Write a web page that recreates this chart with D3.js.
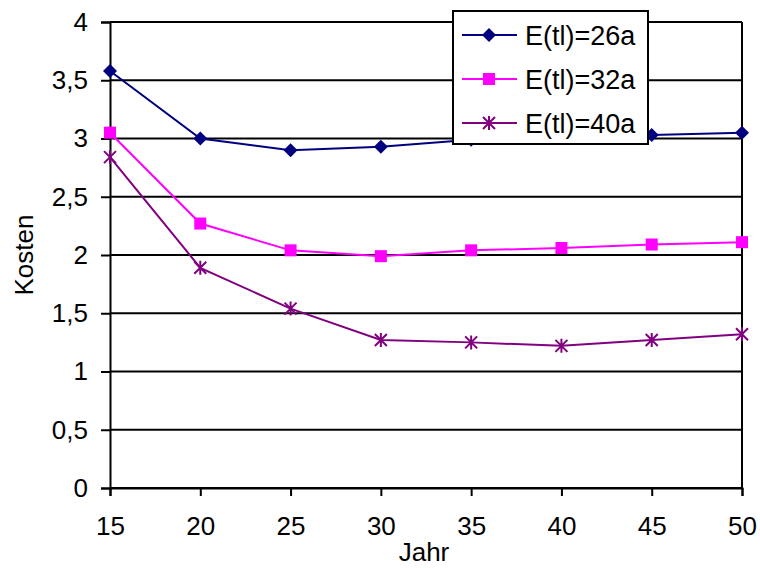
<!DOCTYPE html>
<html>
<head>
<meta charset="utf-8">
<script src="https://cdn.jsdelivr.net/npm/d3@7"></script>
<style>
  body { margin: 0; background: #fff; }
  text { font-family: "Liberation Sans", Arial, sans-serif; fill: #000; }
</style>
</head>
<body>
<div id="container"></div>
<script>
// data
let years = [15, 20, 25, 30, 35, 40, 45, 50];
let kosten26 = [3.58, 3.0, 2.90, 2.93, 2.99, 3.01, 3.03, 3.05];
let kosten32 = [3.05, 2.27, 2.04, 1.99, 2.04, 2.06, 2.09, 2.11];
let kosten40 = [2.84, 1.89, 1.54, 1.27, 1.25, 1.22, 1.27, 1.32];
let yTicks = [0, 0.5, 1, 1.5, 2, 2.5, 3, 3.5, 4];
let seriesNames = ["E(tl)=26a", "E(tl)=32a", "E(tl)=40a"];

let w = 760;
let h = 568;
let plotLeft = 110, plotRight = 742, plotTop = 22, plotBottom = 488;
let fontSize = 26;

let viz = d3.select("#container")
  .append("svg")
    .attr("width", w)
    .attr("height", h)
;

let xScale = d3.scaleLinear().domain([15, 50]).range([plotLeft, plotRight]);
let yScale = d3.scaleLinear().domain([0, 4]).range([plotBottom, plotTop]);

// horizontal gridlines
viz.append("g").selectAll("line").data(yTicks).enter().append("line")
  .attr("x1", plotLeft).attr("x2", plotRight)
  .attr("y1", d => yScale(d)).attr("y2", d => yScale(d))
  .attr("stroke", "#000").attr("stroke-width", 2);

// right border
viz.append("line")
  .attr("x1", plotRight).attr("x2", plotRight).attr("y1", plotTop).attr("y2", plotBottom)
  .attr("stroke", "#000").attr("stroke-width", 2);

// y axis
let yAxis = d3.axisLeft(yScale).tickValues(yTicks).tickSize(9).tickPadding(13)
  .tickFormat(d => String(d).replace(".", ","));
let yAxisGroup = viz.append("g").attr("transform", "translate(" + plotLeft + ",0)").call(yAxis);
yAxisGroup.attr("font-size", fontSize).attr("font-family", null);
yAxisGroup.select(".domain").attr("stroke-width", 2);
yAxisGroup.selectAll("line").attr("stroke-width", 2);

// x axis
let xAxis = d3.axisBottom(xScale).tickValues(years).tickSize(8).tickPadding(21);
let xAxisGroup = viz.append("g").attr("transform", "translate(0," + plotBottom + ")").call(xAxis);
xAxisGroup.attr("font-size", fontSize).attr("font-family", null);
xAxisGroup.select(".domain").attr("stroke-width", 2);
xAxisGroup.selectAll("line").attr("stroke-width", 2);

viz.selectAll(".domain, .tick line").attr("stroke", "#000");
viz.selectAll(".tick text").style("fill", "#000");

// axis titles
viz.append("text").attr("x", 424).attr("y", 561).attr("text-anchor", "middle")
  .attr("font-size", fontSize).text("Jahr");
viz.append("text").attr("transform", "translate(33,255) rotate(-90)").attr("text-anchor", "middle")
  .attr("font-size", fontSize).text("Kosten");

let series = [
  {name: seriesNames[0], values: kosten26, color: "#000080", marker: "diamond"},
  {name: seriesNames[1], values: kosten32, color: "#FF00FF", marker: "square"},
  {name: seriesNames[2], values: kosten40, color: "#800080", marker: "star"}
];

function drawMarker(g, type, color) {
  if (type == "diamond") {
    g.append("path").attr("d", "M0,-7L7,0L0,7L-7,0Z").attr("fill", color);
  } else if (type == "square") {
    g.append("rect").attr("x", -6).attr("y", -6).attr("width", 12).attr("height", 12).attr("fill", color);
  } else {
    g.append("path").attr("d", "M-6,-6L6,6M-6,6L6,-6M0,-7L0,7")
      .attr("stroke", color).attr("stroke-width", 2).attr("fill", "none");
  }
}

let line = d3.line().x((d, i) => xScale(years[i])).y(d => yScale(d));

series.forEach(function(s) {
  let g = viz.append("g");
  g.append("path").attr("d", line(s.values)).attr("fill", "none")
    .attr("stroke", s.color).attr("stroke-width", 2);
  s.values.forEach(function(v, i) {
    let m = g.append("g").attr("transform", "translate(" + xScale(years[i]) + "," + yScale(v) + ")");
    drawMarker(m, s.marker, s.color);
  });
});

// legend
let legend = viz.append("g");
legend.append("rect").attr("x", 453).attr("y", 11).attr("width", 195).attr("height", 133)
  .attr("fill", "#fff").attr("stroke", "#000").attr("stroke-width", 2);
series.forEach(function(s, i) {
  let ly = 35 + i * 44;
  legend.append("line").attr("x1", 462).attr("x2", 517).attr("y1", ly).attr("y2", ly)
    .attr("stroke", s.color).attr("stroke-width", 2);
  let m = legend.append("g").attr("transform", "translate(489," + ly + ")");
  drawMarker(m, s.marker, s.color);
  legend.append("text").attr("x", 525).attr("y", ly + 10).attr("font-size", 27).text(s.name);
});
</script>
</body>
</html>
